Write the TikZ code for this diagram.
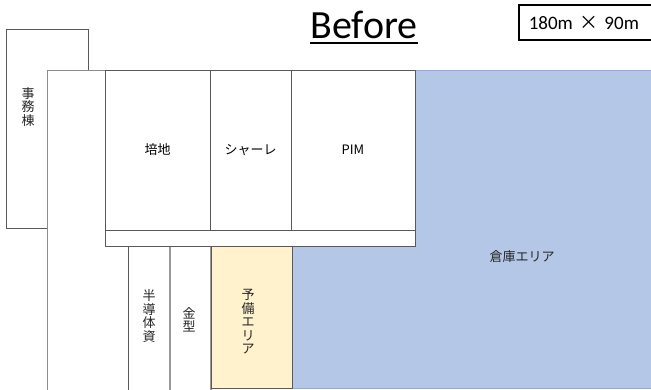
\documentclass[tikz,border=0pt]{standalone}
\usepackage{fontspec}
\setmainfont{Carlito}
\newfontfamily\jpfont{Noto Sans CJK JP}

\definecolor{soukoblue}{HTML}{B4C7E7}
\definecolor{soukoedge}{HTML}{8EA9DB}
\definecolor{yobiyellow}{HTML}{FFF2CC}

\begin{document}
\begin{tikzpicture}[x=1pt,y=-1pt,
  room/.style={draw=black!65,fill=white,line width=0.8pt,inner sep=0pt,align=center,font=\jpfont\fontsize{13}{13.5}\selectfont},
  lbl/.style={inner sep=0pt,align=center,text=black!85,font=\jpfont\fontsize{13}{13.5}\selectfont}]
\useasboundingbox (0,0) rectangle (651,389);

\node[room,minimum width=82,minimum height=199] (jimu) at (47,128.5) {};
\node[lbl] (jimulbl) at (28,107) {事\\務\\棟};

\node[room,draw=black!45,minimum width=673,minimum height=350] (bldg) at (383.5,245) {};
\node[room,draw=soukoedge,fill=soukoblue,minimum width=429,minimum height=318] (souko) at (505.5,229) {};
\node[lbl] (soukolbl) at (522,257) {倉庫エリア};

\node[room,minimum width=42,minimum height=174] (handou) at (149,333) {};
\node[lbl] (handoulbl) at (149,316) {半\\導\\体\\資};
\node[room,draw=black!40,line width=1.2pt,minimum width=41,minimum height=174] (kanagata) at (190.5,333) {};
\node[lbl] (kanagatalbl) at (189,320) {金\\型};
\node[room,fill=yobiyellow,minimum width=81,minimum height=142] (yobi) at (251.5,317) {};
\node[lbl] (yobilbl) at (248,322) {予\\備\\エ\\リ\\ア};

\node[room,minimum width=105,minimum height=160] (baichi) at (157.5,150) {培地};
\node[room,minimum width=81,minimum height=160] (shale) at (250.5,150) {シャーレ};
\node[room,minimum width=124,minimum height=160] (pim) at (353,150) {PIM};
\node[room,minimum width=310,minimum height=16] (strip) at (260,238) {};

\node[anchor=base,inner sep=0pt,font=\fontsize{40}{42}\selectfont] (title) at (364,38) {Before};
\draw[line width=2pt] ([yshift=-5pt]title.base west) -- ([yshift=-5pt]title.base east);
\node[draw=black,line width=1.5pt,anchor=west,minimum height=35,inner xsep=10pt,text width=140,align=left,font=\fontsize{19}{20}\selectfont] (size) at (518,22.5) {180m {\jpfont ×} 90m};
\end{tikzpicture}
\end{document}
